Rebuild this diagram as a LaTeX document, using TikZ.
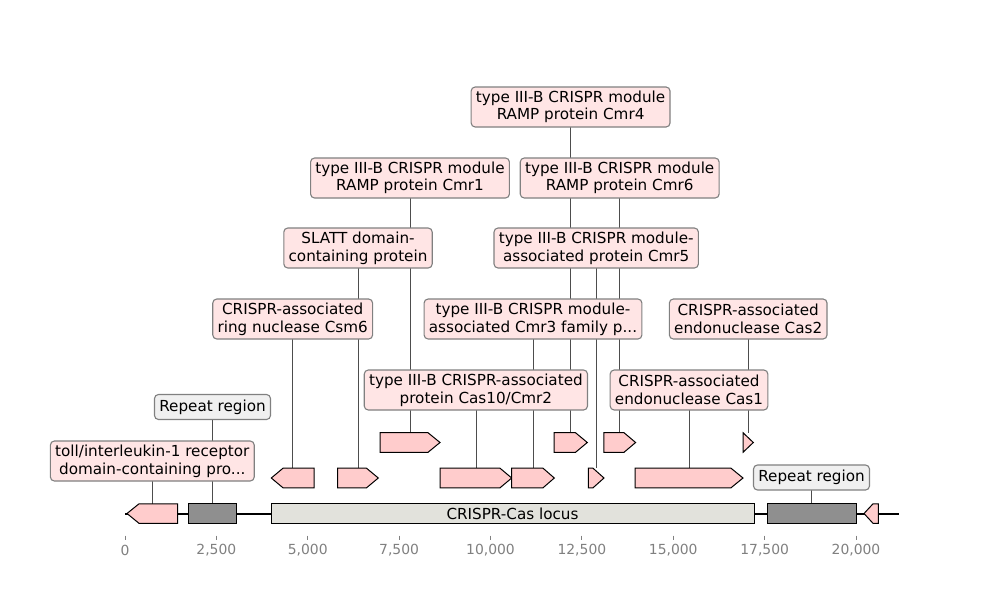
\documentclass[tikz,border=0pt]{standalone}
\usepackage{fontspec}
\setmainfont{DejaVu Sans}
\pgfdeclarelayer{bg}
\pgfsetlayers{bg,main}
\definecolor{featpink}{HTML}{FFCCCC}
\definecolor{boxpink}{HTML}{FFE5E5}
\definecolor{boxgray}{HTML}{F0F0F0}
\definecolor{repgray}{HTML}{8F8F8F}
\definecolor{locusfill}{HTML}{E2E2DC}
\definecolor{edgegray}{HTML}{808080}
\definecolor{linkgray}{HTML}{4D4D4D}
\definecolor{ticklabel}{HTML}{808080}
\tikzset{
 feat/.style={draw=black, line width=1pt, fill=featpink, line join=miter},
 repfeat/.style={feat, fill=repgray},
 locusfeat/.style={feat, fill=locusfill},
 lbl/.style={draw=edgegray, line width=1.1pt, rounded corners=4pt, fill=boxpink, align=center, font=\fontsize{15.2}{17.6}\selectfont, inner xsep=4.8pt, inner ysep=0pt},
 lbltwo/.style={lbl, minimum height=40pt},
 replbl/.style={lbl, fill=boxgray, minimum height=25pt},
 link/.style={draw=linkgray, line width=0.8pt},
 backbone/.style={draw=black, line width=2pt},
 axtick/.style={draw=ticklabel, line width=0.8pt},
 ticklbl/.style={text=ticklabel, font=\fontsize{13.9}{16}\selectfont, inner sep=0pt},
}
\begin{document}
\begin{tikzpicture}[x=1pt,y=-1pt]
\useasboundingbox (0,0) rectangle (1000,600);

% backbone
\coordinate (bb-start) at (125,513.5);
\coordinate (bb-end) at (899,513.5);
\draw[backbone] (bb-start) -- (bb-end);

% ---- baseline row (503.8 / 513.5 / 523.3)
\draw[feat] (127,513.5) -- (139,503.8) -- (177.7,503.8) -- (177.7,523.3) -- (139,523.3) -- cycle;
\coordinate (f-toll) at (152.3,503.8);
\draw[repfeat] (188.5,503.8) rectangle (236.5,523.3);
\coordinate (f-rep1) at (212.5,503.8);
\draw[locusfeat] (271,503.8) rectangle (754,523.3);
\node[font=\fontsize{15.2}{17.6}\selectfont, inner sep=0pt] (locus) at (512.5,513.5) {CRISPR-Cas locus};
\draw[repfeat] (767,503.8) rectangle (856,523.3);
\coordinate (f-rep2) at (811.5,503.8);
\draw[feat] (864,513.5) -- (873,503.8) -- (878.3,503.8) -- (878.3,523.3) -- (873,523.3) -- cycle;

% ---- row 2 (468.2 / 478 / 487.8)
\draw[feat] (271.3,478) -- (283,468.2) -- (314,468.2) -- (314,487.8) -- (283,487.8) -- cycle;
\coordinate (f-csm6) at (292.7,468.2);
\draw[feat] (337.7,468.2) -- (366.5,468.2) -- (378.3,478) -- (366.5,487.8) -- (337.7,487.8) -- cycle;
\coordinate (f-slatt) at (358,468.2);
\draw[feat] (440,468.2) -- (500,468.2) -- (511.7,478) -- (500,487.8) -- (440,487.8) -- cycle;
\coordinate (f-cas10) at (475.9,468.2);
\draw[feat] (511.7,468.2) -- (543,468.2) -- (554.3,478) -- (543,487.8) -- (511.7,487.8) -- cycle;
\coordinate (f-cmr3) at (533,468.2);
\draw[feat] (588.3,468.2) -- (593,468.2) -- (604,478) -- (593,487.8) -- (588.3,487.8) -- cycle;
\coordinate (f-cmr5) at (596.2,468.2);
\draw[feat] (635,468.2) -- (731,468.2) -- (743,478) -- (731,487.8) -- (635,487.8) -- cycle;
\coordinate (f-cas1) at (689,468.2);

% ---- row 3 (432.7 / 442.5 / 452.3)
\draw[feat] (380,432.7) -- (428,432.7) -- (440,442.5) -- (428,452.3) -- (380,452.3) -- cycle;
\coordinate (f-cmr1) at (410,432.7);
\draw[feat] (554,432.7) -- (575.5,432.7) -- (587.3,442.5) -- (575.5,452.3) -- (554,452.3) -- cycle;
\coordinate (f-cmr4) at (570.6,432.7);
\draw[feat] (603.8,432.7) -- (624,432.7) -- (635.6,442.5) -- (624,452.3) -- (603.8,452.3) -- cycle;
\coordinate (f-cmr6) at (619.7,432.7);
\draw[feat] (743,432.7) -- (753.3,442.5) -- (743,452.3) -- cycle;
\coordinate (f-cas2) at (748.2,432.7);

% ---- labels
\node[lbltwo] (l-toll) at (f-toll |- 0,461) {toll/interleukin-1 receptor\\domain-containing pro...};
\node[replbl] (l-rep1) at (f-rep1 |- 0,407) {Repeat region};
\node[lbltwo] (l-csm6) at (f-csm6 |- 0,319) {CRISPR-associated\\ring nuclease Csm6};
\node[lbltwo] (l-slatt) at (f-slatt |- 0,248) {SLATT domain-\\containing protein};
\node[lbltwo] (l-cmr1) at (f-cmr1 |- 0,178) {type III-B CRISPR module\\RAMP protein Cmr1};
\node[lbltwo] (l-cas10) at (f-cas10 |- 0,390) {type III-B CRISPR-associated\\protein Cas10/Cmr2};
\node[lbltwo] (l-cmr3) at (f-cmr3 |- 0,319) {type III-B CRISPR module-\\associated Cmr3 family p...};
\node[lbltwo] (l-cmr4) at (f-cmr4 |- 0,107) {type III-B CRISPR module\\RAMP protein Cmr4};
\node[lbltwo] (l-cmr5) at (f-cmr5 |- 0,248) {type III-B CRISPR module-\\associated protein Cmr5};
\node[lbltwo] (l-cmr6) at (f-cmr6 |- 0,178) {type III-B CRISPR module\\RAMP protein Cmr6};
\node[lbltwo] (l-cas1) at (f-cas1 |- 0,390) {CRISPR-associated\\endonuclease Cas1};
\node[lbltwo] (l-cas2) at (f-cas2 |- 0,319) {CRISPR-associated\\endonuclease Cas2};
\node[replbl] (l-rep2) at (f-rep2 |- 0,477.5) {Repeat region};

% ---- white page and connectors (behind boxes)
\begin{pgfonlayer}{bg}
\fill[white] (0,0) rectangle (1000,600);
\foreach \n in {toll,rep1,csm6,slatt,cmr1,cas10,cmr3,cmr4,cmr5,cmr6,cas1,cas2,rep2}
  \draw[link] (l-\n.center) -- (f-\n);
\end{pgfonlayer}

% ---- axis
\foreach \i/\t in {0/0,1/{2,500},2/{5,000},3/{7,500},4/{10,000},5/{12,500},6/{15,000},7/{17,500},8/{20,000}}{
  \draw[axtick] (125+\i*91.375,535.5) -- (125+\i*91.375,539.5);
  \node[ticklbl] (tk\i) at (125+\i*91.375,550) {\t};
}
\end{tikzpicture}
\end{document}
